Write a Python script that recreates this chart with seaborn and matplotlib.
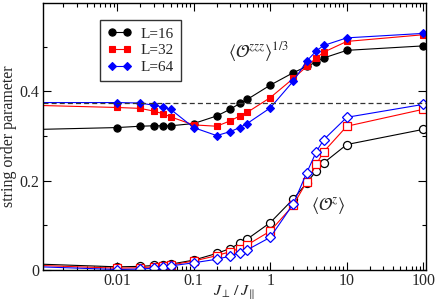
import matplotlib
matplotlib.use("Agg")
from matplotlib import pyplot as plt
from matplotlib.ticker import FixedLocator, FixedFormatter, LogLocator, NullFormatter, MultipleLocator
import seaborn as sns
import numpy as np

# coupling ratio J_perp / J_par (first point lies left of the visible range)
j_ratio = [0.0001, 0.01, 0.02, 0.03, 0.04, 0.05, 0.1, 0.2, 0.3, 0.4, 0.5,
           1, 2, 3, 4, 5, 10, 100]

# <O^zzz>^(1/3), filled symbols
ozzz_16 = [0.311, 0.319, 0.322, 0.323, 0.323, 0.323, 0.328, 0.345, 0.360, 0.373,
           0.382, 0.414, 0.442, 0.456, 0.466, 0.475, 0.492, 0.502]
ozzz_32 = [0.373, 0.364, 0.362, 0.356, 0.350, 0.343, 0.325, 0.322, 0.334, 0.345,
           0.353, 0.386, 0.429, 0.456, 0.475, 0.488, 0.512, 0.527]
ozzz_64 = [0.375, 0.375, 0.374, 0.369, 0.365, 0.360, 0.319, 0.301, 0.310, 0.319,
           0.328, 0.363, 0.423, 0.468, 0.491, 0.503, 0.520, 0.530]

# <O^z>, open symbols
oz_16 = [0.019, 0.007, 0.008, 0.010, 0.011, 0.013, 0.022, 0.037, 0.048, 0.060,
         0.069, 0.106, 0.159, 0.195, 0.222, 0.240, 0.281, 0.315]
oz_32 = [0.016, 0.004, 0.005, 0.007, 0.009, 0.011, 0.020, 0.032, 0.041, 0.048,
         0.056, 0.087, 0.145, 0.198, 0.237, 0.265, 0.322, 0.360]
oz_64 = [0.013, 0.001, 0.002, 0.004, 0.006, 0.009, 0.016, 0.024, 0.031, 0.039,
         0.045, 0.073, 0.148, 0.218, 0.265, 0.292, 0.342, 0.371]

sizes = ["L=16", "L=32", "L=64"]
colors = ["black", "red", "blue"]
markers = ["o", "s", "D"]
msizes = [5.2, 4.6, 4.0]
dashed_level = 0.375

sns.set_theme(style="ticks")
plt.rcParams["font.family"] = ["Liberation Serif", "DejaVu Serif"]
plt.rcParams["mathtext.fontset"] = "stix"

fig = plt.figure(figsize=(4.36, 3.04), dpi=100)
ax = fig.add_axes([0.0986, 0.112, 0.8784, 0.878])

for filled, open_, lab, c, m, ms in zip([ozzz_16, ozzz_32, ozzz_64], [oz_16, oz_32, oz_64],
                                        sizes, colors, markers, msizes):
    sns.lineplot(x=j_ratio, y=filled, ax=ax, color=c, marker=m, markersize=ms,
                 markeredgecolor=c, markerfacecolor=c, markeredgewidth=0.8,
                 linewidth=0.8, label=lab, estimator=None, sort=True)
    sns.lineplot(x=j_ratio, y=open_, ax=ax, color=c, marker=m, markersize=ms + 0.6,
                 markeredgecolor=c, markerfacecolor="white", markeredgewidth=0.9,
                 linewidth=0.8, estimator=None, sort=True, legend=False)

ax.axhline(dashed_level, color="#333333", linestyle=(0, (4, 2.5)), linewidth=0.9)

ax.set_xscale("log")
ax.set_xlim(0.00108, 108)
ax.set_ylim(0, 0.598)

ax.xaxis.set_major_locator(FixedLocator([0.01, 0.1, 1, 10, 100]))
ax.xaxis.set_major_formatter(FixedFormatter(["0.01", "0.1", "1", "10", "100"]))
ax.xaxis.set_minor_locator(LogLocator(base=10, subs=np.arange(2, 10)))
ax.xaxis.set_minor_formatter(NullFormatter())
ax.yaxis.set_major_locator(FixedLocator([0, 0.2, 0.4]))
ax.yaxis.set_major_formatter(FixedFormatter(["0", "0.2", "0.4"]))
ax.yaxis.set_minor_locator(MultipleLocator(0.1))

ax.tick_params(which="both", direction="in", top=True, right=True, labelsize=11.5,
               color="black", width=0.8, pad=2.5)
ax.tick_params(which="major", length=6)
ax.tick_params(which="minor", length=3)
for s in ax.spines.values():
    s.set_color("black")
    s.set_linewidth(1)

ax.set_xlabel(r"$J_\perp\,/\,J_\parallel$", fontsize=11.5, labelpad=-4)
ax.set_ylabel("string order parameter", fontsize=11.5, labelpad=2)

ax.annotate(r"$\langle \mathcal{O}^{zzz}\rangle^{1/3}$", xy=(258, 304 - 52),
            xycoords="figure pixels", fontsize=13, ha="center", va="center")
ax.annotate(r"$\langle \mathcal{O}^{z}\rangle$", xy=(328, 304 - 206),
            xycoords="figure pixels", fontsize=13, ha="center", va="center")

leg = ax.legend(loc="upper left", bbox_to_anchor=(0.149, 0.936), borderaxespad=0,
                fancybox=False, frameon=True, edgecolor="black", fontsize=11,
                numpoints=2, handlelength=1.6, handletextpad=0.6, labelspacing=0.2,
                borderpad=0.45)
leg.get_frame().set_linewidth(1)

fig.savefig("out.png", dpi=100)
